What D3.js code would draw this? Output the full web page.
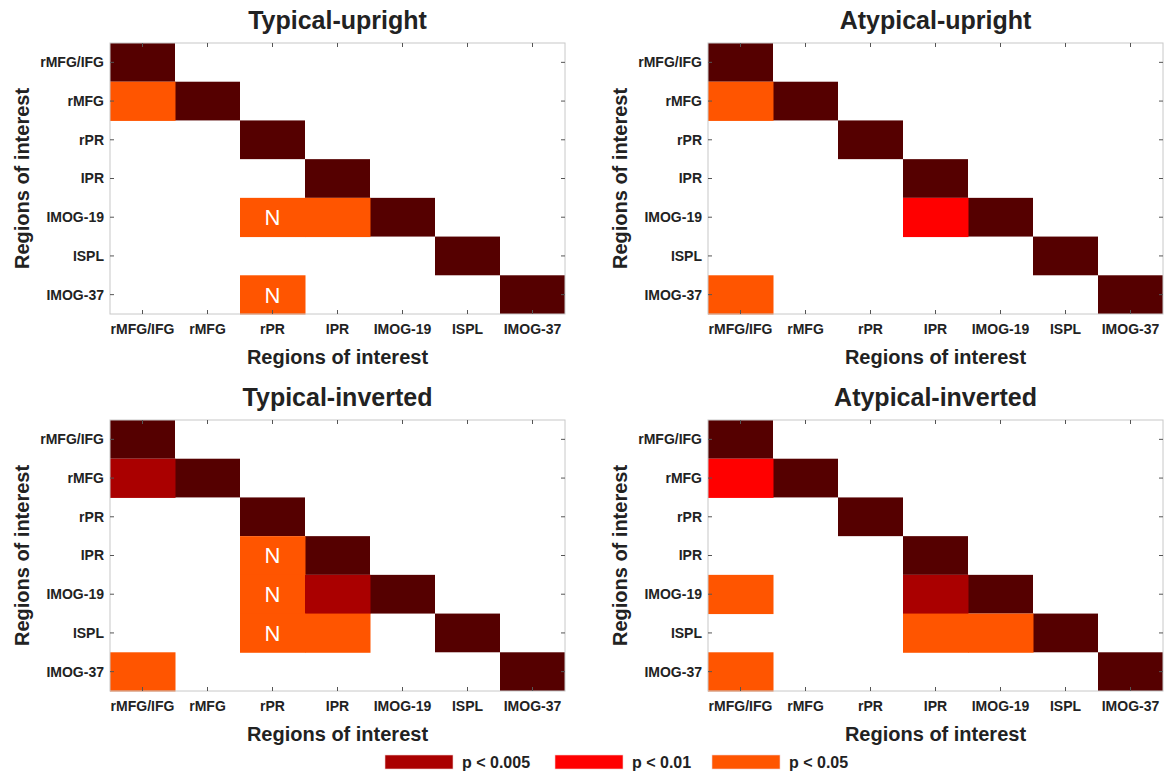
<!DOCTYPE html>
<html lang="en">
<head>
  <meta charset="UTF-8">
  <title>Connectivity matrices</title>
  <style>
    body { margin: 0; background: #fff; }
    text { font-family: "Liberation Sans", Arial, sans-serif; font-weight: bold; fill: #222; }
    .title { font-size: 25px; }
    .tick-label { font-size: 14px; }
    .axis-label { font-size: 20px; }
    .legend text { font-size: 16px; }
    .frame { fill: none; stroke: #c8c8c8; stroke-width: 1; }
    .tick { stroke: #555; stroke-width: 1; }
    .n-mark { fill: #fff; font-weight: normal; font-size: 22px; }
  </style>
</head>
<body>
  <svg width="1170" height="778"></svg>

  <script src="https://d3js.org/d3.v7.min.js"></script>
  <script>
    const regions = ["rMFG/IFG", "rMFG", "rPR", "IPR", "IMOG-19", "ISPL", "IMOG-37"];
    const panelTitles = ["Typical-upright", "Atypical-upright", "Typical-inverted", "Atypical-inverted"];

    // significance levels
    const levels = ["p < 0.005", "p < 0.01", "p < 0.05"];
    const levelColors = ["#aa0000", "#ff0000", "#ff5500"];
    const diagColor = "#550000";

    // significant cells: [row, column, level, marked with N]
    const typicalUpright = [
      ["rMFG", "rMFG/IFG", "p < 0.05", false],
      ["IMOG-19", "rPR", "p < 0.05", true],
      ["IMOG-19", "IPR", "p < 0.05", false],
      ["IMOG-37", "rPR", "p < 0.05", true]
    ];
    const atypicalUpright = [
      ["rMFG", "rMFG/IFG", "p < 0.05", false],
      ["IMOG-19", "IPR", "p < 0.01", false],
      ["IMOG-37", "rMFG/IFG", "p < 0.05", false]
    ];
    const typicalInverted = [
      ["rMFG", "rMFG/IFG", "p < 0.005", false],
      ["IPR", "rPR", "p < 0.05", true],
      ["IMOG-19", "rPR", "p < 0.05", true],
      ["IMOG-19", "IPR", "p < 0.005", false],
      ["ISPL", "rPR", "p < 0.05", true],
      ["ISPL", "IPR", "p < 0.05", false],
      ["IMOG-37", "rMFG/IFG", "p < 0.05", false]
    ];
    const atypicalInverted = [
      ["rMFG", "rMFG/IFG", "p < 0.01", false],
      ["IMOG-19", "rMFG/IFG", "p < 0.05", false],
      ["IMOG-19", "IPR", "p < 0.005", false],
      ["ISPL", "IPR", "p < 0.05", false],
      ["ISPL", "IMOG-19", "p < 0.05", false],
      ["IMOG-37", "rMFG/IFG", "p < 0.05", false]
    ];
    const panelCells = [typicalUpright, atypicalUpright, typicalInverted, atypicalInverted];

    const svg = d3.select("svg");
    const plotW = 455, plotH = 271;
    const panelPos = [
      { left: 110, top: 43 },
      { left: 708, top: 43 },
      { left: 110, top: 420 },
      { left: 708, top: 420 }
    ];

    const color = d3.scaleOrdinal().domain(levels).range(levelColors);
    const x = d3.scaleBand().domain(regions).range([0, plotW]);
    const y = d3.scaleBand().domain(regions).range([0, plotH]);

    panelTitles.forEach((title, i) => {
      const p = panelPos[i];
      const g = svg.append("g").attr("transform", `translate(${p.left},${p.top})`);

      g.append("text")
        .attr("class", "title")
        .attr("x", plotW / 2).attr("y", -14)
        .attr("text-anchor", "middle")
        .text(title);

      // diagonal (self connections)
      g.selectAll(".diag")
        .data(regions)
        .join("rect")
        .attr("x", d => x(d)).attr("y", d => y(d))
        .attr("width", x.bandwidth()).attr("height", y.bandwidth())
        .attr("fill", diagColor);

      const cells = panelCells[i];
      g.selectAll(".sig")
        .data(cells)
        .join("rect")
        .attr("x", d => x(d[1])).attr("y", d => y(d[0]))
        .attr("width", x.bandwidth() + 0.5).attr("height", y.bandwidth() + 0.5)
        .attr("fill", d => color(d[2]));

      g.selectAll(".n-mark")
        .data(cells.filter(d => d[3]))
        .join("text")
        .attr("class", "n-mark")
        .attr("x", d => x(d[1]) + x.bandwidth() / 2)
        .attr("y", d => y(d[0]) + y.bandwidth() / 2)
        .attr("text-anchor", "middle")
        .attr("dy", "0.36em")
        .text("N");

      // frame and inward ticks
      g.append("rect").attr("class", "frame").attr("width", plotW).attr("height", plotH);
      regions.forEach(r => {
        const cx = x(r) + x.bandwidth() / 2, cy = y(r) + y.bandwidth() / 2;
        g.append("line").attr("class", "tick").attr("x1", cx).attr("x2", cx).attr("y1", plotH).attr("y2", plotH - 4);
        g.append("line").attr("class", "tick").attr("x1", cx).attr("x2", cx).attr("y1", 0).attr("y2", 4);
        g.append("line").attr("class", "tick").attr("x1", 0).attr("x2", 4).attr("y1", cy).attr("y2", cy);
        g.append("line").attr("class", "tick").attr("x1", plotW).attr("x2", plotW - 4).attr("y1", cy).attr("y2", cy);
      });

      g.selectAll(".xlab")
        .data(regions)
        .join("text")
        .attr("class", "tick-label")
        .attr("x", d => x(d) + x.bandwidth() / 2)
        .attr("y", plotH + 20)
        .attr("text-anchor", "middle")
        .text(d => d);

      g.selectAll(".ylab")
        .data(regions)
        .join("text")
        .attr("class", "tick-label")
        .attr("x", -6)
        .attr("y", d => y(d) + y.bandwidth() / 2)
        .attr("dy", "0.35em")
        .attr("text-anchor", "end")
        .text(d => d);

      g.append("text")
        .attr("class", "axis-label")
        .attr("x", plotW / 2).attr("y", plotH + 50)
        .attr("text-anchor", "middle")
        .text("Regions of interest");

      g.append("text")
        .attr("class", "axis-label")
        .attr("transform", `translate(-81,${plotH / 2}) rotate(-90)`)
        .attr("text-anchor", "middle")
        .text("Regions of interest");
    });

    // legend
    const legendX = [385, 555, 712];
    const legend = svg.append("g").attr("class", "legend");
    levels.forEach((lv, i) => {
      legend.append("rect")
        .attr("x", legendX[i]).attr("y", 755)
        .attr("width", 68).attr("height", 14)
        .attr("fill", color(lv))
        .attr("stroke", "#f2d0d0").attr("stroke-width", 0.6);
      legend.append("text")
        .attr("x", legendX[i] + 77).attr("y", 768)
        .text(lv);
    });
  </script>
</body>
</html>
